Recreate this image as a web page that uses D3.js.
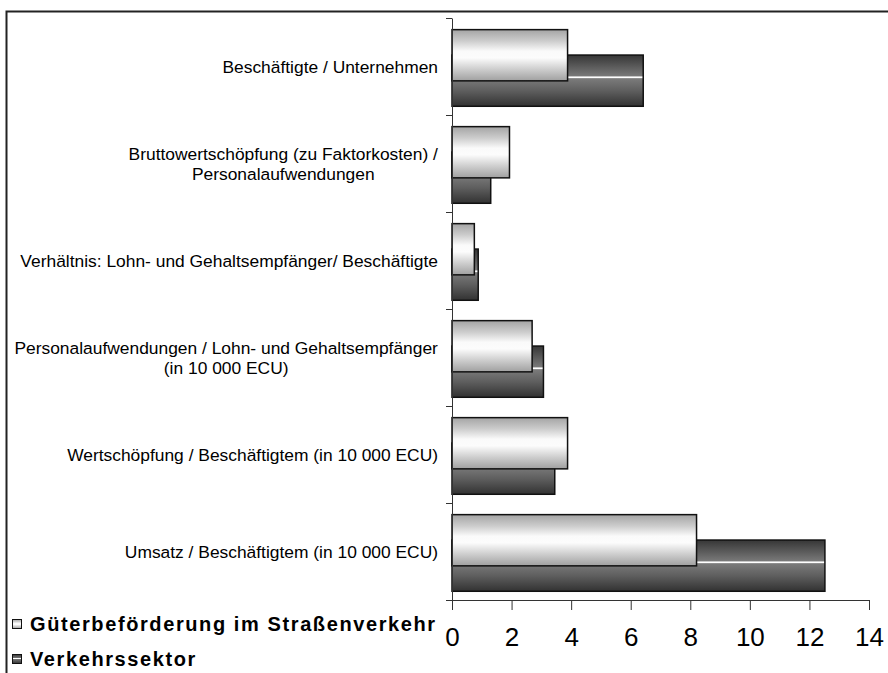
<!DOCTYPE html>
<html>
<head>
<meta charset="utf-8">
<script src="https://cdn.jsdelivr.net/npm/d3@7"></script>
<style>
  html, body { margin: 0; padding: 0; background: #fff; }
  svg { display: block; font-family: "Liberation Sans", Arial, sans-serif; }
</style>
</head>
<body>
<svg id="chart" width="888" height="673"></svg>
<script>
// Ratios, top to bottom; "\n" marks a line break in the label
const categories = [
  "Beschäftigte / Unternehmen",
  "Bruttowertschöpfung (zu Faktorkosten) /\nPersonalaufwendungen",
  "Verhältnis: Lohn- und Gehaltsempfänger/ Beschäftigte",
  "Personalaufwendungen / Lohn- und Gehaltsempfänger\n(in 10 000 ECU)",
  "Wertschöpfung / Beschäftigtem (in 10 000 ECU)",
  "Umsatz / Beschäftigtem (in 10 000 ECU)"
];
const roadFreight = [3.88, 1.93, 0.75, 2.69, 3.88, 8.21];
const transportSector = [6.42, 1.30, 0.88, 3.07, 3.45, 12.52];
const seriesNames = ["Güterbeförderung im Straßenverkehr", "Verkehrssektor"];
const xTicks = [0, 2, 4, 6, 8, 10, 12, 14];

const svg = d3.select("#chart");

// gradients
const defs = svg.append("defs");
function gradient(id, stops) {
  const g = defs.append("linearGradient").attr("id", id)
    .attr("x1", 0).attr("y1", 0).attr("x2", 0).attr("y2", 1);
  stops.forEach(([o, c]) => g.append("stop").attr("offset", o).attr("stop-color", c));
}
gradient("gLight", [[0, "#a4a4a4"], [0.22, "#cccccc"], [0.42, "#fafafa"], [0.55, "#fcfcfc"], [0.78, "#cccccc"], [1, "#a0a0a0"]]);
gradient("gDark", [[0, "#363636"], [0.41, "#797979"], [0.425, "#ffffff"], [0.445, "#ffffff"], [0.46, "#7b7b7b"], [0.7, "#5e5e5e"], [1, "#323232"]]);

// outer frame
svg.append("path")
  .attr("d", "M6.5,673 V11.5 H888")
  .attr("fill", "none").attr("stroke", "#222").attr("stroke-width", 2);

const x = d3.scaleLinear().domain([0, 14]).range([452, 869]);
const y = d3.scaleBand().domain(d3.range(categories.length)).range([18, 600]).padding(0);
const edges = d3.scaleLinear().domain([0, categories.length]).range([18, 600]);
const bw = y.bandwidth();

// bars: dark series behind, light series in front
const dark = svg.append("g");
dark.selectAll("rect").data(transportSector).join("rect")
  .attr("x", x(0))
  .attr("y", (d, i) => y(i) + bw * 0.382)
  .attr("width", d => x(d) - x(0))
  .attr("height", bw * 0.528)
  .attr("fill", "url(#gDark)")
  .attr("stroke", "#111").attr("stroke-width", 1.5);

const light = svg.append("g");
light.selectAll("rect").data(roadFreight).join("rect")
  .attr("x", x(0))
  .attr("y", (d, i) => y(i) + bw * 0.12)
  .attr("width", d => x(d) - x(0))
  .attr("height", bw * 0.528)
  .attr("fill", "url(#gLight)")
  .attr("stroke", "#111").attr("stroke-width", 1.5);

// y axis with ticks on category boundaries
const yAxis = svg.append("g")
  .attr("transform", `translate(${x(0)},0)`)
  .call(d3.axisLeft(edges).tickValues(d3.range(categories.length + 1)).tickFormat("").tickSize(6).tickSizeOuter(0));
yAxis.selectAll("path, line").attr("stroke", "#333");

// x axis
const xAxis = svg.append("g")
  .attr("transform", `translate(0,600)`)
  .call(d3.axisBottom(x).tickValues(xTicks).tickSize(10).tickSizeOuter(0).tickPadding(18));
xAxis.select(".domain").attr("d", `M${x(0) - 6},0.5H${x(14)}`);
xAxis.selectAll("path, line").attr("stroke", "#333");
xAxis.selectAll("text")
  .attr("font-family", "'Liberation Sans', Arial, sans-serif")
  .attr("font-size", 26).attr("fill", "#000");

// category labels, multi-line labels centred on their widest line
const labels = svg.append("g")
  .attr("font-size", 17.4).attr("fill", "#000");
categories.forEach((c, i) => {
  const lines = c.split("\n");
  const lh = 20;
  const cy = y(i) + bw / 2;
  const t = labels.append("text").attr("text-anchor", "middle");
  lines.forEach((ln, j) => {
    t.append("tspan").attr("x", 0)
      .attr("y", cy + (j - (lines.length - 1) / 2) * lh)
      .attr("dy", "0.35em").text(ln);
  });
  const w = t.node().getBBox().width;
  t.attr("transform", `translate(${438 - w / 2},0)`);
});

// legend
const legend = svg.append("g");
const legendFills = ["url(#gLight)", "url(#gDark)"];
seriesNames.forEach((n, i) => {
  const ly = 624 + i * 35;
  legend.append("rect").attr("x", 12.5).attr("y", ly - 4.5).attr("width", 9).attr("height", 9)
    .attr("fill", legendFills[i]).attr("stroke", "#111").attr("stroke-width", 1);
  legend.append("text").attr("x", 30).attr("y", ly).attr("dy", "0.35em")
    .attr("font-size", 20).attr("font-weight", "bold").attr("letter-spacing", 1.6)
    .text(n);
});
</script>
</body>
</html>
